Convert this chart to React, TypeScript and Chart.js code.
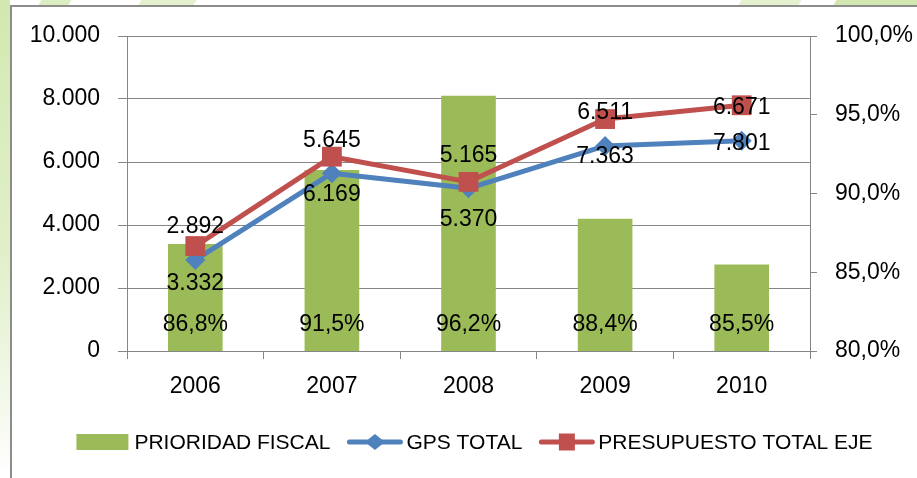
import React, { useEffect, useRef } from "react";
import { Chart, registerables } from "chart.js";

Chart.register(...registerables);

const years = ["2006", "2007", "2008", "2009", "2010"];
const prioridadFiscal = [86.8, 91.5, 96.2, 88.4, 85.5];
const gpsTotal = [2892, 5645, 5165, 6511, 6671];
const presupuestoTotal = [3332, 6169, 5370, 7363, 7801];
const leftTicks = [0, 2000, 4000, 6000, 8000, 10000];
const rightTicks = [80, 85, 90, 95, 100];

const GREEN = "#9BBB59";
const BLUE = "#4F81BD";
const RED = "#C0504D";
const GRID = "#868686";
const FONT = "'Liberation Sans', Arial, sans-serif";

function fmtThousands(v: number): string {
  return Math.round(v).toString().replace(/\B(?=(\d{3})+(?!\d))/g, ".");
}
function fmtPct(v: number): string {
  return v.toFixed(1).replace(".", ",") + "%";
}

const labelPlugin = {
  id: "valueLabels",
  afterDatasetsDraw(chart: any) {
    const ctx = chart.ctx;
    const area = chart.chartArea;
    ctx.save();
    ctx.font = `23px ${FONT}`;
    ctx.fillStyle = "#000";
    ctx.textAlign = "center";
    ctx.textBaseline = "middle";
    chart.getDatasetMeta(0).data.forEach((el: any, i: number) => {
      ctx.fillText(fmtPct(prioridadFiscal[i]), el.x, area.bottom - 26);
    });
    chart.getDatasetMeta(1).data.forEach((el: any, i: number) => {
      ctx.fillText(fmtThousands(gpsTotal[i]), el.x, el.y - 33);
    });
    chart.getDatasetMeta(2).data.forEach((el: any, i: number) => {
      ctx.fillText(fmtThousands(presupuestoTotal[i]), el.x, el.y + 38);
    });
    ctx.restore();
  },
};

const legendPlugin = {
  id: "customLegend",
  afterDraw(chart: any) {
    const ctx = chart.ctx;
    const ds = chart.data.datasets;
    ctx.save();
    ctx.font = `21px ${FONT}`;
    ctx.textBaseline = "middle";
    ctx.textAlign = "left";
    const items = [
      { text: ds[0].label, kind: "bar", color: GREEN, sym: 52, gap: 6 },
      { text: ds[1].label, kind: "diamond", color: BLUE, sym: 55, gap: 4 },
      { text: ds[2].label, kind: "square", color: RED, sym: 55, gap: 4 },
    ];
    const itemGap = 17;
    let total = 0;
    items.forEach((it, i) => {
      total += it.sym + it.gap + ctx.measureText(it.text).width + (i < items.length - 1 ? itemGap : 0);
    });
    const cx = (chart.chartArea.left + chart.chartArea.right) / 2 + 6;
    let x = cx - total / 2;
    const y = 442;
    items.forEach((it) => {
      ctx.fillStyle = it.color;
      ctx.strokeStyle = it.color;
      if (it.kind === "bar") {
        ctx.fillRect(x, y - 8, it.sym, 16);
      } else {
        ctx.lineWidth = 5;
        ctx.lineCap = "round";
        ctx.beginPath();
        ctx.moveTo(x + 2, y);
        ctx.lineTo(x + it.sym - 2, y);
        ctx.stroke();
        const mx = x + it.sym / 2;
        ctx.beginPath();
        if (it.kind === "diamond") {
          ctx.moveTo(mx - 10, y);
          ctx.lineTo(mx, y - 8);
          ctx.lineTo(mx + 10, y);
          ctx.lineTo(mx, y + 8);
          ctx.closePath();
        } else {
          ctx.rect(mx - 8, y - 8.5, 16, 17);
        }
        ctx.fill();
      }
      x += it.sym + it.gap;
      ctx.fillStyle = "#000";
      ctx.fillText(it.text, x, y + 1);
      x += ctx.measureText(it.text).width + itemGap;
    });
    ctx.restore();
  },
};

export default function App() {
  const ref = useRef<HTMLCanvasElement>(null);

  useEffect(() => {
    document.body.style.margin = "0";
    const canvas = ref.current;
    if (!canvas) return;
    const chart = new Chart(canvas, {
      type: "bar",
      data: {
        labels: years,
        datasets: [
          {
            type: "bar",
            label: "PRIORIDAD FISCAL",
            data: prioridadFiscal,
            yAxisID: "y1",
            backgroundColor: GREEN,
            categoryPercentage: 1,
            barPercentage: 0.4,
            order: 3,
          } as any,
          {
            type: "line",
            label: "GPS TOTAL",
            data: gpsTotal,
            yAxisID: "y",
            borderColor: BLUE,
            backgroundColor: BLUE,
            borderWidth: 5,
            borderCapStyle: "round",
            borderJoinStyle: "round",
            tension: 0,
            pointStyle: "rectRot",
            pointRadius: 10,
            pointBorderWidth: 0,
            pointBackgroundColor: BLUE,
            order: 2,
          } as any,
          {
            type: "line",
            label: "PRESUPUESTO TOTAL EJE",
            data: presupuestoTotal,
            yAxisID: "y",
            borderColor: RED,
            backgroundColor: RED,
            borderWidth: 5,
            borderCapStyle: "round",
            borderJoinStyle: "round",
            tension: 0,
            pointStyle: "rect",
            pointRadius: 14,
            pointBorderWidth: 0,
            pointBackgroundColor: RED,
            order: 1,
          } as any,
        ],
      },
      options: {
        responsive: false,
        animation: false,
        layout: { padding: { top: 36, left: 0, right: 0, bottom: 0 } },
        plugins: {
          legend: { display: false },
          tooltip: { enabled: false },
        },
        scales: {
          x: {
            grid: {
              display: true,
              drawOnChartArea: false,
              drawTicks: true,
              tickLength: 8,
              color: GRID,
              offset: true,
            },
            border: { display: true, color: GRID },
            ticks: { font: { size: 23, family: FONT }, color: "#000", padding: 14 },
            afterFit: (s: any) => {
              s.height = 127;
            },
          },
          y: {
            position: "left",
            min: 0,
            max: 10000,
            grid: { color: GRID, tickLength: 9, drawTicks: true },
            border: { display: true, color: GRID },
            ticks: {
              font: { size: 23, family: FONT },
              color: "#000",
              padding: 18,
              callback: (v: any) => fmtThousands(Number(v)),
            },
            afterBuildTicks: (s: any) => {
              s.ticks = leftTicks.map((v) => ({ value: v }));
            },
            afterFit: (s: any) => {
              s.width = 127;
            },
          },
          y1: {
            position: "right",
            min: 80,
            max: 100,
            grid: { drawOnChartArea: false, color: GRID, tickLength: 7, drawTicks: true },
            border: { display: true, color: GRID },
            ticks: {
              font: { size: 23, family: FONT },
              color: "#000",
              padding: 18,
              callback: (v: any) => fmtPct(Number(v)),
            },
            afterBuildTicks: (s: any) => {
              s.ticks = rightTicks.map((v) => ({ value: v }));
            },
            afterFit: (s: any) => {
              s.width = 107;
            },
          },
        },
      } as any,
      plugins: [labelPlugin, legendPlugin],
    });
    return () => chart.destroy();
  }, []);

  return (
    <div
      style={{
        position: "fixed",
        left: 0,
        top: 0,
        width: 917,
        height: 478,
        overflow: "hidden",
        background:
          "linear-gradient(to bottom, #d3e8b0 0%, #e2f0cb 55%, #f4f9ec 85%, #ffffff 100%) 0 0 / 10px 478px no-repeat, #ffffff",
      }}
    >
      <div style={{ position: "absolute", left: 40, top: 0, width: 30, height: 5, background: "#dcedc1", transform: "skewX(-30deg)" }} />
      <div style={{ position: "absolute", left: 140, top: 0, width: 55, height: 5, background: "#e4f1cf", transform: "skewX(-30deg)" }} />
      <div style={{ position: "absolute", left: 740, top: 0, width: 60, height: 5, background: "#e4f1cf", transform: "skewX(-30deg)" }} />
      <div style={{ position: "absolute", left: 835, top: 0, width: 90, height: 5, background: "#d3e8b0", transform: "skewX(-30deg)" }} />
      <div
        style={{
          position: "absolute",
          left: 10,
          top: 5,
          width: 940,
          height: 500,
          background: "#ffffff",
          borderLeft: "2px solid #8c8c8c",
          borderTop: "2px solid #8c8c8c",
        }}
      />
      <canvas ref={ref} width={917} height={478} style={{ position: "absolute", left: 0, top: 0 }} />
    </div>
  );
}
